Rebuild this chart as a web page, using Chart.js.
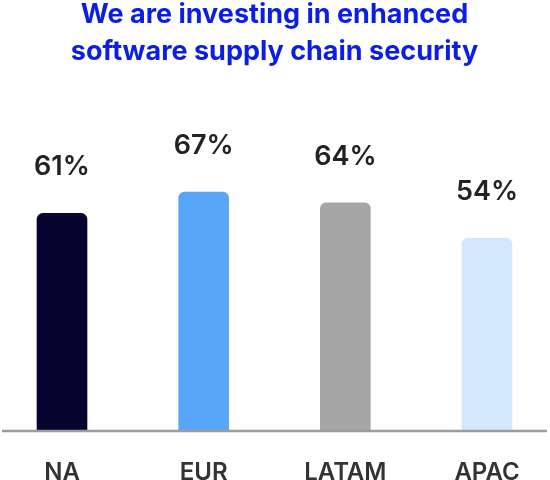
<!DOCTYPE html>
<html>
<head>
<meta charset="utf-8">
<script src="https://cdn.jsdelivr.net/npm/chart.js@4.4.1/dist/chart.umd.min.js"></script>
<style>
  html, body { margin: 0; padding: 0; background: #fff; }
  #wrap { width: 550px; height: 480px; position: relative; }
</style>
</head>
<body>
<div id="wrap"><canvas id="chart"></canvas></div>
<script>
const regions = ['NA', 'EUR', 'LATAM', 'APAC'];
const shares = [61, 67, 64, 54];
const barColors = ['#050530', '#58a6f8', '#a6a6a6', '#d3e7fd'];
const titleLines = ['We are investing in enhanced', 'software supply chain security'];

// value labels over the bars + the grey baseline across the whole width
const barLabels = {
  id: 'barLabels',
  afterDatasetsDraw(chart){
    const ctx = chart.ctx;
    const y0 = chart.scales.y.getPixelForValue(0);
    ctx.save();
    ctx.strokeStyle = '#9c9c9c';
    ctx.lineWidth = 2.5;
    ctx.beginPath();
    ctx.moveTo(2, y0 + 1);
    ctx.lineTo(chart.width - 3, y0 + 1);
    ctx.stroke();

    ctx.font = '600 27px Inter';
    ctx.fillStyle = '#222';
    ctx.textAlign = 'center';
    ctx.textBaseline = 'alphabetic';
    chart.getDatasetMeta(0).data.forEach((bar, i) => {
      ctx.fillText(shares[i] + '%', bar.x, bar.y - 38);
    });
    ctx.restore();
  }
};

new Chart(document.getElementById('chart'), {
  type: 'bar',
  data: {
    labels: regions,
    datasets: [{
      data: shares,
      backgroundColor: barColors,
      borderRadius: 6,
      borderSkipped: 'start',
      barThickness: 50,
      clip: false
    }]
  },
  options: {
    responsive: true,
    maintainAspectRatio: false,
    animation: false,
    layout: { padding: { left: 62, right: 63, top: 0, bottom: 0 } },
    plugins: {
      legend: { display: false },
      tooltip: { enabled: false },
      title: {
        display: true,
        text: titleLines,
        color: '#0b1ee6',
        font: { family: 'Inter', size: 27, weight: '700', lineHeight: 1.352 },
        padding: { top: -3, bottom: 5 }
      }
    },
    scales: {
      x: {
        offset: false,
        grid: { display: false, drawTicks: false },
        border: { display: false },
        ticks: { color: '#333', font: { family: 'Inter', size: 24, weight: '600' }, padding: 28 },
        afterFit(scale){ scale.height = 50; }
      },
      y: {
        display: false,
        min: 0,
        max: 100
      }
    }
  },
  plugins: [barLabels]
});
</script>
</body>
</html>
